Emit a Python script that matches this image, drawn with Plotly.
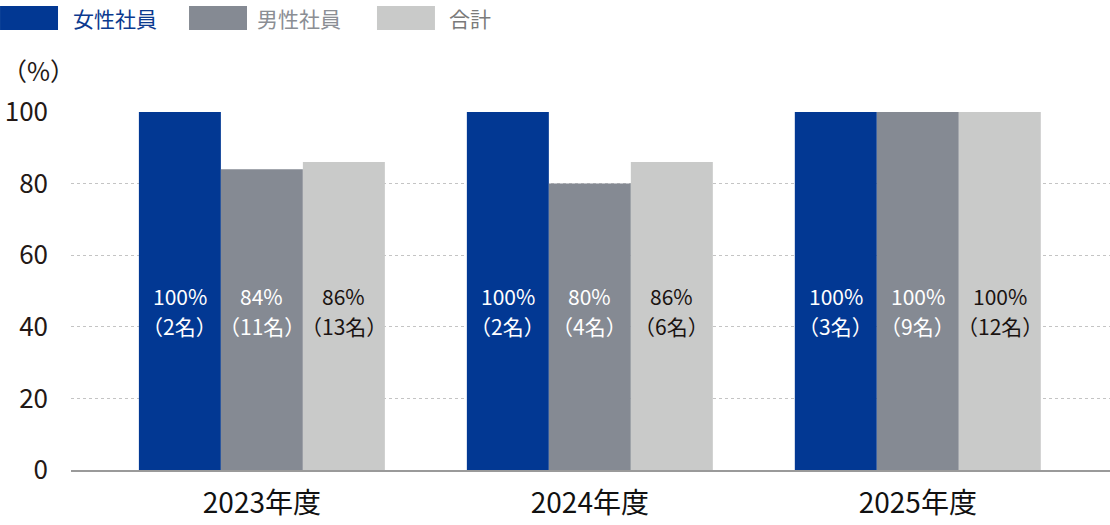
import plotly.graph_objects as go

# data
years = ["2023年度", "2024年度", "2025年度"]
series_names = ["女性社員", "男性社員", "合計"]
rates = {
    "女性社員": [100, 100, 100],
    "男性社員": [84, 80, 100],
    "合計": [86, 86, 100],
}
counts = {
    "女性社員": [2, 2, 3],
    "男性社員": [11, 4, 9],
    "合計": [13, 6, 12],
}
y_ticks = [0, 20, 40, 60, 80, 100]

colors = ["#023893", "#858a93", "#c9cac9"]
label_colors = ["#ffffff", "#ffffff", "#1a1311"]
legend_text_colors = ["#0b3a8f", "#8b8e94", "#7a7a7a"]
FONT = "Noto Sans CJK JP, Noto Sans, sans-serif"
BAR_PX = 82

fig = go.Figure()

for i, name in enumerate(series_names):
    fig.add_trace(go.Bar(
        x=years, y=rates[name], name=name,
        marker=dict(color=colors[i], line=dict(width=0)),
        showlegend=False, hoverinfo="skip"
    ))
    # value labels in the bars, two lines each
    for j, yr in enumerate(years):
        lines = [f"{rates[name][j]}%", f"（{counts[name][j]}名）"]
        for k, line in enumerate(lines):
            fig.add_annotation(
                x=yr, y=44.5, xref="x", yref="y",
                xshift=(i - 1) * BAR_PX, yshift=15 - 30 * k,
                text=line, showarrow=False, align="center",
                font=dict(family=FONT, size=21, color=label_colors[i]),
            )

# custom legend with wide swatches
sw_x = [(-0.0683, -0.0125), (0.1136, 0.1694), (0.2945, 0.3503)]
tx_x = [0.0, 0.1771, 0.3619]
for i, name in enumerate(series_names):
    fig.add_shape(type="rect", xref="paper", yref="paper",
                  x0=sw_x[i][0], x1=sw_x[i][1], y0=1.229, y1=1.296,
                  fillcolor=colors[i], line=dict(width=0))
    fig.add_annotation(x=tx_x[i], y=1.2626, xref="paper", yref="paper",
                       xanchor="left", yanchor="middle", showarrow=False,
                       text=name,
                       font=dict(family=FONT, size=21, color=legend_text_colors[i]))

fig.add_annotation(x=-0.0683, y=1.117, xref="paper", yref="paper",
                   xanchor="left", yanchor="middle", showarrow=False,
                   text="（%）", font=dict(family=FONT, size=25, color="#231815"))

fig.update_layout(
    width=1110, height=525,
    margin=dict(l=71, r=0, t=112, b=55),
    plot_bgcolor="white", paper_bgcolor="white",
    barmode="group", bargap=0.25, bargroupgap=0,
    font=dict(family=FONT, color="#231815"),
    xaxis=dict(range=[-0.582, 2.586], showgrid=False, ticks="",
               tickfont=dict(size=28, color="#111111"), ticklabelstandoff=8,
               showline=True, linecolor="#9a9a9a", linewidth=1.5),
    yaxis=dict(range=[0, 100], tickvals=y_ticks, ticks="",
               tickfont=dict(size=26, color="#231815"),
               showgrid=True, gridcolor="#c4c4c4", griddash="dot", gridwidth=1,
               zeroline=False, showline=False, ticklabelstandoff=22),
)

# page body has a default margin; drop it so the figure sits at the corner
fig.write_html("out.html", config={"displayModeBar": False},
               post_script="document.body.style.margin='0';")
